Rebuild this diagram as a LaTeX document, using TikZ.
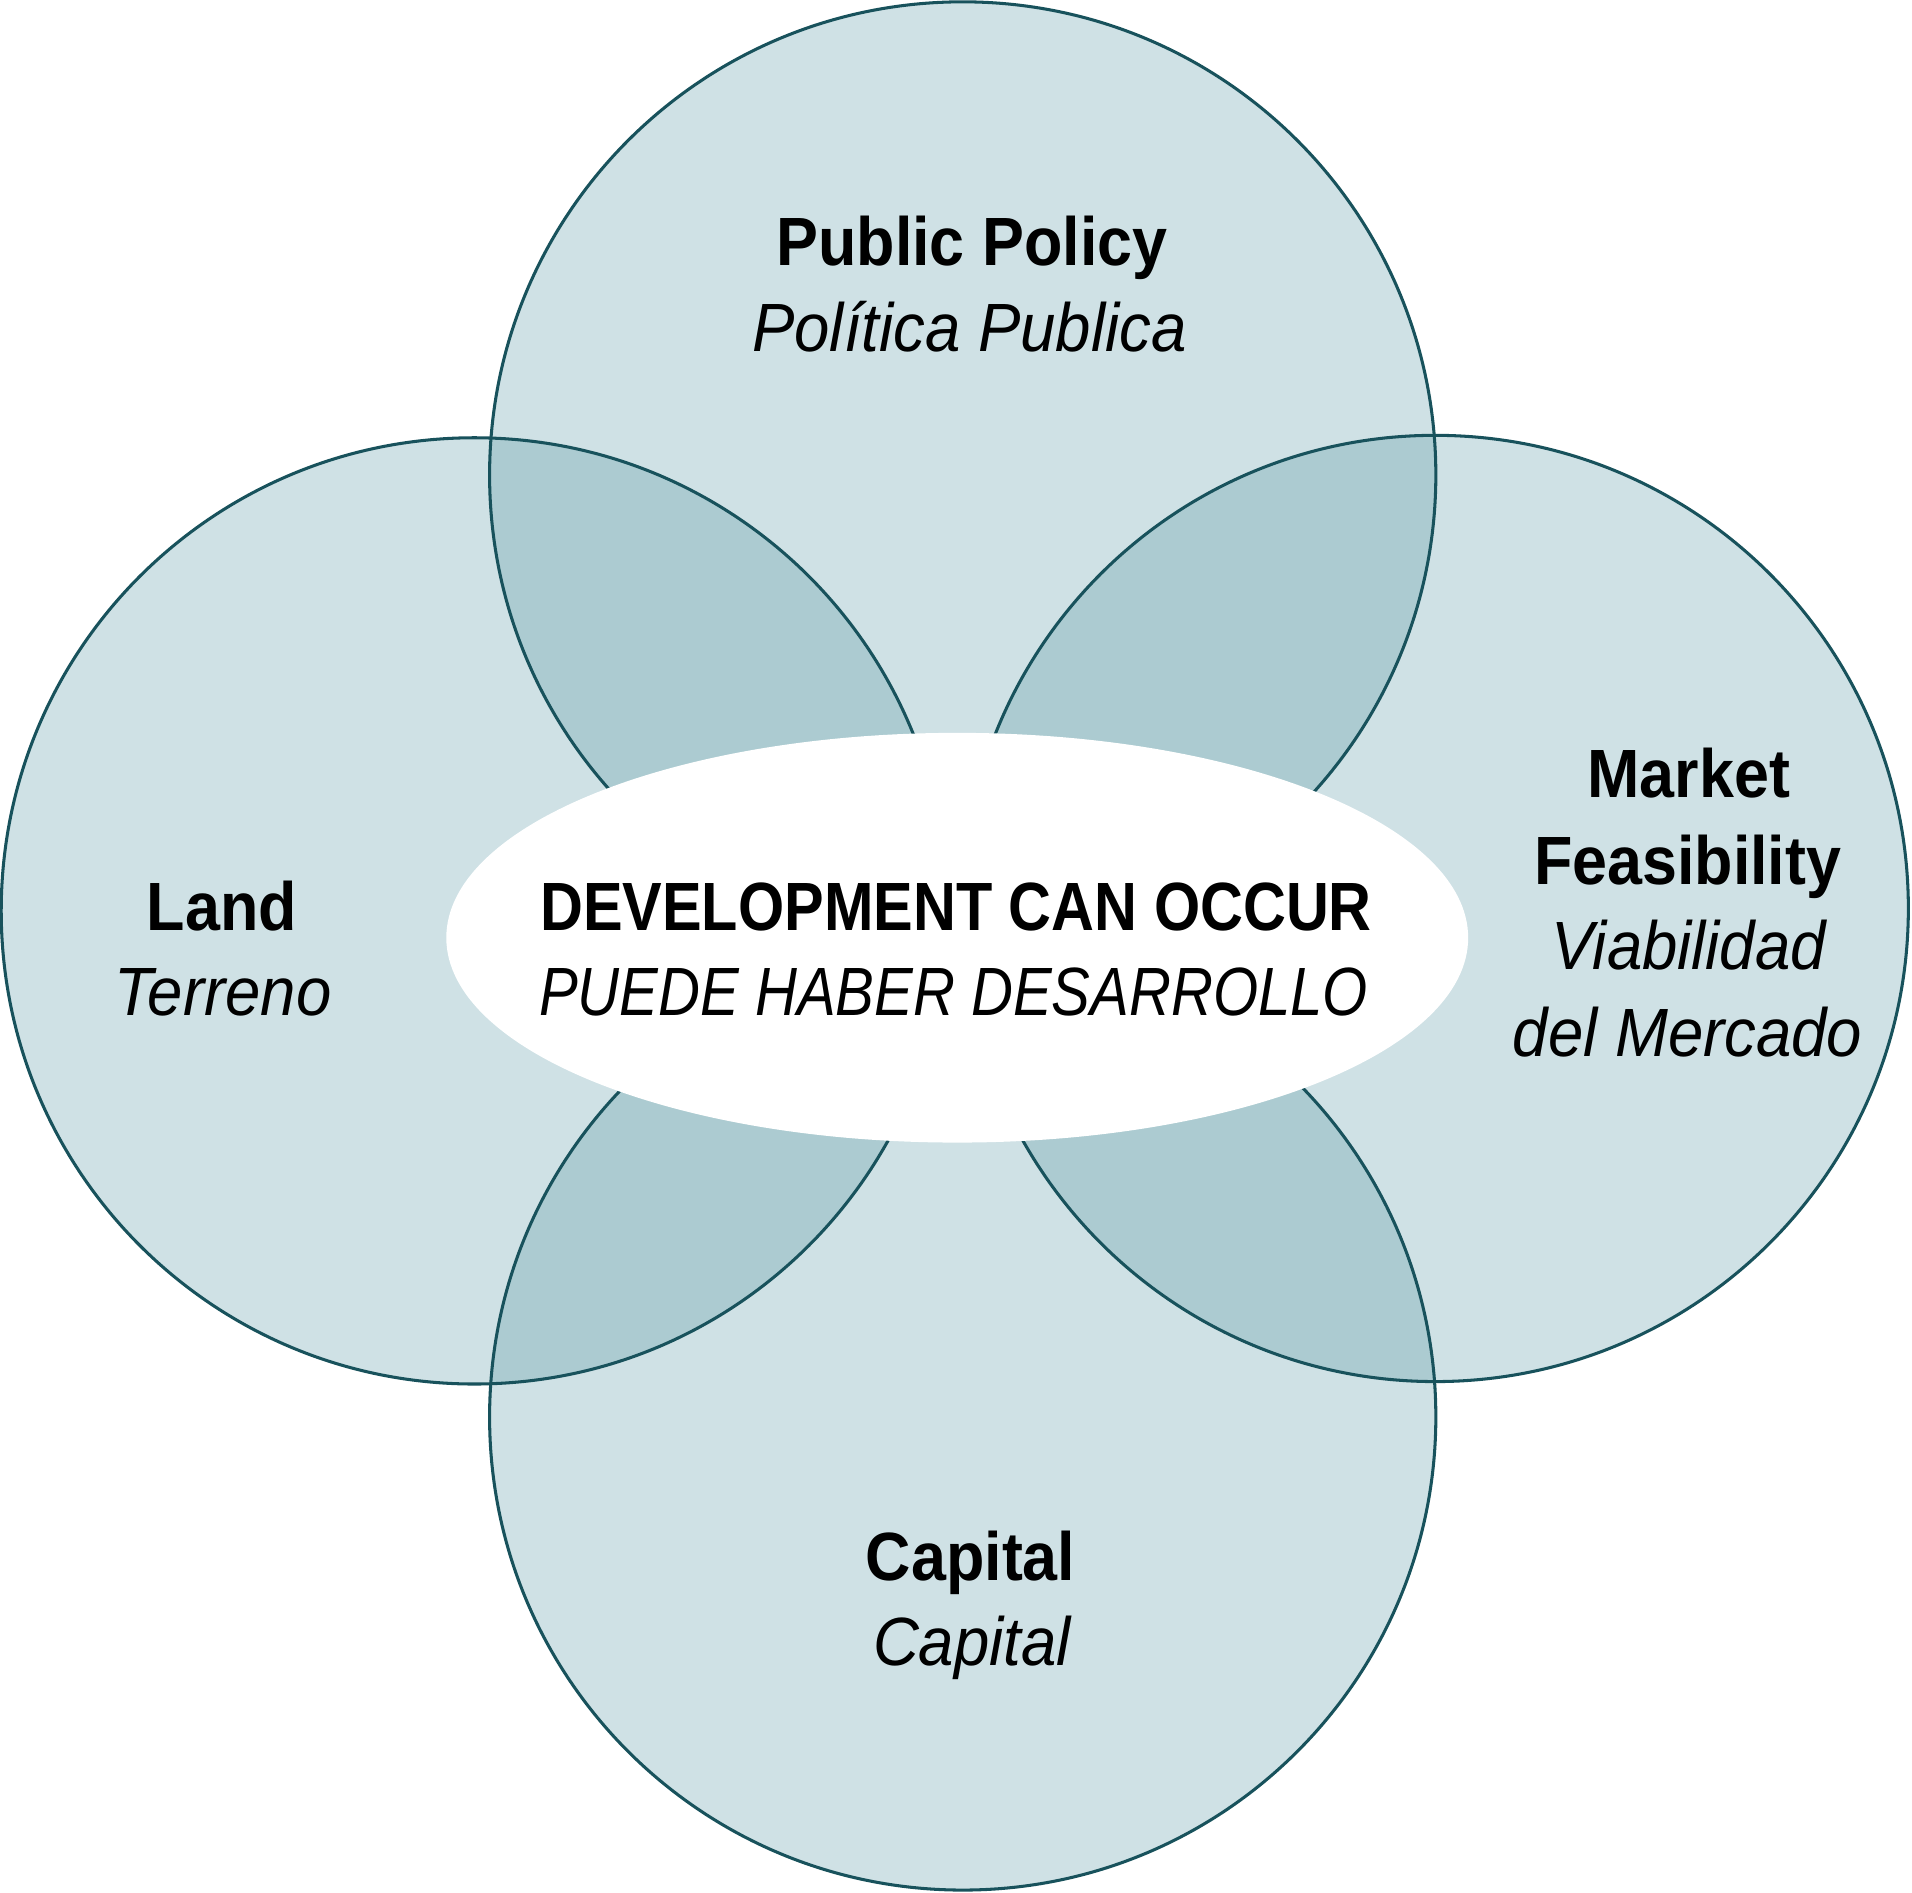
\documentclass[tikz,border=0pt]{standalone}
\usepackage{fontspec}
\newfontfamily\condB{Liberation Sans}[FakeStretch=0.92]
\newfontfamily\condI{Liberation Sans}[FakeStretch=0.93]
\newfontfamily\condCB{Liberation Sans}[FakeStretch=0.87]
\newfontfamily\condCI{Liberation Sans}[FakeStretch=0.85]
\definecolor{lightteal}{RGB}{207,225,229}
\definecolor{darkteal}{RGB}{172,203,209}
\definecolor{stroketeal}{RGB}{24,82,92}
\tikzset{
  ring/.style={draw=stroketeal, line width=2.5pt},
  lbl/.style={anchor=base, inner sep=0pt},
  boldlbl/.style={lbl, font=\condB\bfseries\fontsize{56}{70}\selectfont},
  itlbl/.style={lbl, font=\condI\itshape\fontsize{56}{70}\selectfont},
  cboldlbl/.style={lbl, font=\condCB\bfseries\fontsize{56}{70}\selectfont},
  citlbl/.style={lbl, font=\condCI\itshape\fontsize{56}{70}\selectfont},
}
\begin{document}
\begin{tikzpicture}[x=1pt,y=-1pt]
\useasboundingbox (0,0) rectangle (1568,1552.4);
% circle centres
\coordinate (ct) at (789.5,389.5);
\coordinate (cl) at (389,747);
\coordinate (cr) at (1177,745);
\coordinate (cb) at (789.5,1162);
\def\rad{388pt}
% base fills
\foreach \c in {ct,cl,cr,cb} \fill[lightteal] (\c) circle[radius=\rad];
% overlaps
\begin{scope}\clip (ct) circle[radius=\rad]; \fill[darkteal] (cl) circle[radius=\rad]; \fill[darkteal] (cr) circle[radius=\rad];\end{scope}
\begin{scope}\clip (cb) circle[radius=\rad]; \fill[darkteal] (cl) circle[radius=\rad]; \fill[darkteal] (cr) circle[radius=\rad];\end{scope}
% outlines
\foreach \c in {ct,cl,cr,cb} \draw[ring] (\c) circle[radius=\rad];
% central ellipse
\fill[white] (785,769) ellipse[x radius=419, y radius=168];
% labels
\node[boldlbl] (pp1) at (797,218) {Public Policy};
\node[itlbl]   (pp2) at (795,288) {Política Publica};
\node[boldlbl] (la1) at (182,763) {Land};
\node[itlbl]   (la2) at (183,833) {Terreno};
\node[boldlbl] (mf1) at (1385,654) {Market};
\node[boldlbl] (mf2) at (1384,725) {Feasibility};
\node[itlbl]   (mf3) at (1385,795) {Viabilidad};
\node[itlbl]   (mf4) at (1384,866) {del Mercado};
\node[cboldlbl] (dc1) at (784,763) {DEVELOPMENT CAN OCCUR};
\node[citlbl]   (dc2) at (782,833) {PUEDE HABER DESARROLLO};
\node[boldlbl] (ca1) at (796,1296) {Capital};
\node[itlbl]   (ca2) at (797,1366) {Capital};
\end{tikzpicture}
\end{document}
